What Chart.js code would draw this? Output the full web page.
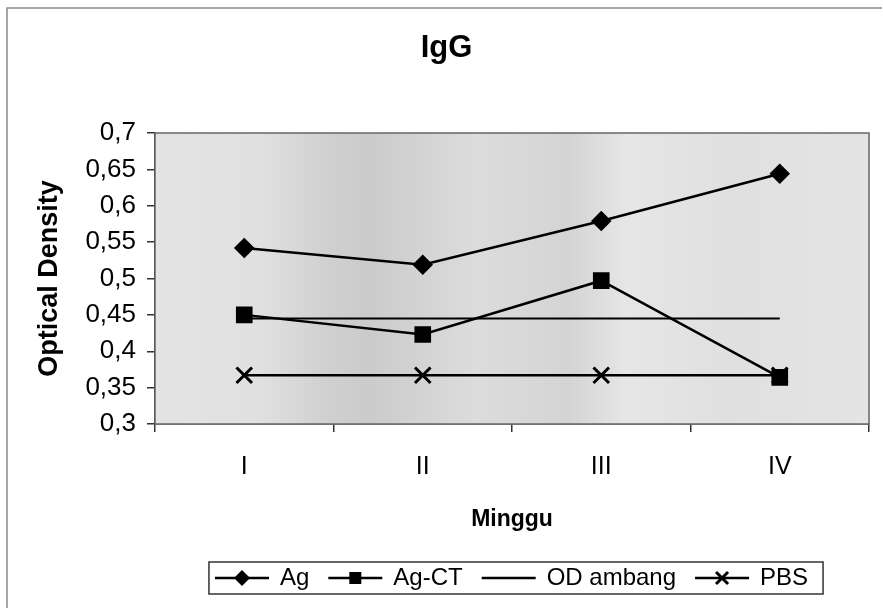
<!DOCTYPE html>
<html>
<head>
    <title>IgG</title>
    <script src="https://cdn.jsdelivr.net/npm/chart.js"></script>
    <style>
        body { margin: 0; background: #fff; }
    </style>
</head>
<body>
    <canvas id="grafik" width="883" height="608"></canvas>
    <script>
        // data
        const minggu = ['I', 'II', 'III', 'IV'];
        const ag = [0.542, 0.519, 0.579, 0.644];
        const agCT = [0.450, 0.423, 0.497, 0.364];
        const odAmbang = [0.445, 0.445, 0.445, 0.445];
        const pbs = [0.367, 0.367, 0.367, 0.367];

        const FONT = '"Liberation Sans", Arial, sans-serif';

        // ikon legenda: garis + marker
        function buatIkon(jenis) {
            const c = document.createElement('canvas');
            c.width = 56; c.height = 24;
            const g = c.getContext('2d');
            g.strokeStyle = '#000'; g.fillStyle = '#000'; g.lineWidth = 2.5;
            g.beginPath(); g.moveTo(1, 12); g.lineTo(55, 12); g.stroke();
            if (jenis === 'diamond') {
                g.beginPath(); g.moveTo(28, 4); g.lineTo(36, 12); g.lineTo(28, 20); g.lineTo(20, 12); g.closePath(); g.fill();
            } else if (jenis === 'square') {
                g.fillRect(22, 6, 12, 12);
            } else if (jenis === 'x') {
                g.lineWidth = 3;
                g.beginPath(); g.moveTo(22, 6); g.lineTo(34, 18); g.moveTo(34, 6); g.lineTo(22, 18); g.stroke();
            }
            return c;
        }
        const ikon = [buatIkon('diamond'), buatIkon('square'), buatIkon('none'), buatIkon('x')];

        const latar = {
            id: 'latar',
            beforeDatasetsDraw(chart) {
                const {ctx, chartArea: a} = chart;
                ctx.save();
                // bingkai luar
                ctx.strokeStyle = '#8a8a8a'; ctx.lineWidth = 1.5;
                ctx.beginPath(); ctx.moveTo(7, 612); ctx.lineTo(7, 8); ctx.lineTo(882, 8); ctx.stroke();
                // area plot abu-abu
                const gr = ctx.createLinearGradient(a.left, 0, a.right, 0);
                gr.addColorStop(0, '#e4e4e4');
                gr.addColorStop(0.15, '#e0e0e0');
                gr.addColorStop(0.24, '#d0d0d0');
                gr.addColorStop(0.3, '#cbcbcb');
                gr.addColorStop(0.45, '#dcdcdc');
                gr.addColorStop(0.58, '#d4d4d4');
                gr.addColorStop(0.66, '#e6e6e6');
                gr.addColorStop(0.8, '#e0e0e0');
                gr.addColorStop(1, '#e4e4e4');
                ctx.fillStyle = gr;
                ctx.fillRect(a.left, a.top, a.right - a.left, a.bottom - a.top);
                ctx.strokeStyle = '#666'; ctx.lineWidth = 1.5;
                ctx.strokeRect(a.left, a.top, a.right - a.left, a.bottom - a.top);
                ctx.restore();
            },
            afterDraw(chart) {
                const lg = chart.legend;
                if (!lg || !lg.legendHitBoxes.length) return;
                const hb = lg.legendHitBoxes;
                const kiri = Math.min(...hb.map(h => h.left)) - 7;
                const kanan = Math.max(...hb.map(h => h.left + h.width)) + 15;
                const atas = Math.min(...hb.map(h => h.top)) - 4;
                const bawah = Math.max(...hb.map(h => h.top + h.height)) + 4;
                const ctx = chart.ctx;
                ctx.save();
                ctx.strokeStyle = '#333'; ctx.lineWidth = 1.5;
                ctx.strokeRect(kiri, atas, kanan - kiri, bawah - atas);
                ctx.restore();
            }
        };

        const umum = { borderColor: '#000', backgroundColor: '#000', pointBackgroundColor: '#000', pointBorderColor: '#000', borderWidth: 2.5, tension: 0, fill: false };

        new Chart(document.getElementById('grafik'), {
            type: 'line',
            data: {
                labels: minggu,
                datasets: [
                    { ...umum, label: 'Ag', data: ag, pointStyle: 'rectRot', pointRadius: 8.5, pointHoverRadius: 8.5 },
                    { ...umum, label: 'Ag-CT', data: agCT, pointStyle: 'rect', pointRadius: 10, pointHoverRadius: 10 },
                    { ...umum, label: 'OD ambang', data: odAmbang, pointRadius: 0, borderWidth: 2 },
                    { ...umum, label: 'PBS', data: pbs, pointStyle: 'crossRot', pointRadius: 11, pointBorderWidth: 3, pointHoverRadius: 11 }
                ]
            },
            options: {
                responsive: false,
                animation: false,
                layout: { padding: { left: 20, right: 10, top: 0, bottom: 8 } },
                plugins: {
                    title: {
                        display: true, text: 'IgG', color: '#000',
                        font: { family: FONT, size: 31, weight: 'bold' },
                        padding: { top: 29.4, bottom: 66.4 }
                    },
                    legend: {
                        position: 'bottom', fullSize: false,
                        labels: {
                            usePointStyle: true, pointStyleWidth: 52, padding: 20, color: '#000',
                            font: { family: FONT, size: 24 },
                            generateLabels: (chart) => chart.data.datasets.map((d, i) => ({
                                text: d.label, pointStyle: ikon[i], datasetIndex: i,
                                fillStyle: '#000', strokeStyle: '#000', lineWidth: 0, hidden: false
                            }))
                        }
                    },
                    tooltip: { enabled: false }
                },
                scales: {
                    x: {
                        offset: true,
                        afterFit: (s) => { s.height = 122; },
                        grid: { drawOnChartArea: false, offset: true, tickLength: 8, color: '#333', lineWidth: 1.5 },
                        border: { color: '#333', width: 1.5 },
                        ticks: { color: '#000', padding: 20, font: { family: FONT, size: 25 } },
                        title: { display: true, text: 'Minggu', color: '#000', font: { family: FONT, size: 23, weight: 'bold' }, padding: { top: 0, bottom: 12.2 } }
                    },
                    y: {
                        min: 0.3, max: 0.7,
                        afterFit: (s) => { s.width = 135; },
                        grid: { drawOnChartArea: false, tickLength: 8, color: '#333', lineWidth: 1.5 },
                        border: { color: '#333', width: 1.5 },
                        ticks: {
                            stepSize: 0.05, color: '#000', padding: 11, font: { family: FONT, size: 26 },
                            callback: (v) => Number(v.toFixed(2)).toString().replace('.', ',')
                        },
                        title: { display: true, text: 'Optical Density', color: '#000', font: { family: FONT, size: 27, weight: 'bold' }, padding: { top: 13.8, bottom: 0 } }
                    }
                }
            },
            plugins: [latar]
        });
    </script>
</body>
</html>
